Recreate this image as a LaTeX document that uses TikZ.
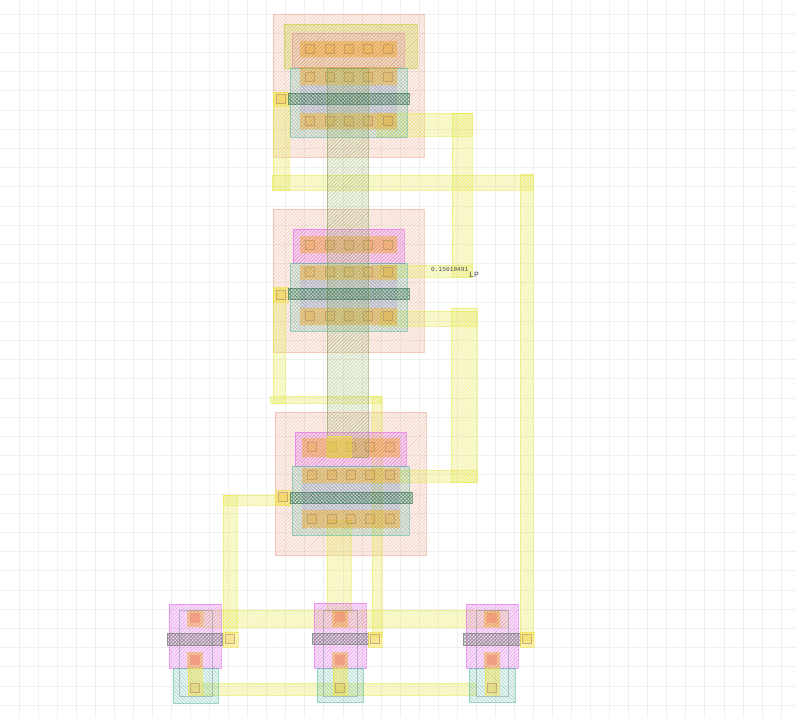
\documentclass[tikz,border=0pt]{standalone}
\usepackage{fontspec}
\setmainfont{Liberation Mono}
\usetikzlibrary{patterns.meta}
\definecolor{cwell}{HTML}{EFA48C}
\definecolor{cnwell}{HTML}{C4CE30}
\definecolor{cplus}{HTML}{E060E8}
\definecolor{cdiff}{HTML}{50B8A0}
\definecolor{cactive}{HTML}{EFA020}
\definecolor{cmetal}{HTML}{E8EA50}
\definecolor{cmet}{HTML}{F4E040}
\definecolor{cgate}{HTML}{3F7A58}
\definecolor{cpoly}{HTML}{98B060}
\definecolor{ccont}{HTML}{B89060}
\definecolor{clav}{HTML}{A898D8}
\definecolor{cinner}{HTML}{8090A0}
\tikzset{
  x=1pt,y=-1pt,
  lyr/.style n args={4}{
    preaction={fill=#1,fill opacity=#3},
    pattern={Lines[angle=#2,distance=2.5pt,line width=.55pt]},pattern color=#1,
    fill opacity=#4,draw=#1,draw opacity=.5,line width=.7pt},
  well/.style={lyr={cwell}{45}{.14}{.55}},
  nplus/.style={lyr={cnwell}{45}{.2}{.65}},
  nmix/.style={lyr={cwell!60!cplus}{45}{.14}{.5}},
  pplus/.style={lyr={cplus}{45}{.18}{.6}},
  diff/.style={lyr={cdiff}{-45}{.1}{.5}},
  active/.style={lyr={cactive}{45}{.34}{.7},draw=none},
  lav/.style={lyr={clav}{-45}{.14}{.4},draw=none},
  metal/.style={lyr={cmetal}{45}{.2}{.65}},
  metalo/.style={lyr={cmet}{45}{.35}{.85}},
  column/.style={lyr={cpoly}{45}{.12}{.4},draw=cpoly!85!black,draw opacity=.5},
  gate/.style={lyr={cgate}{45}{.16}{.5},
    postaction={pattern={Lines[angle=-45,distance=2.5pt,line width=.55pt]},pattern color=cgate,fill opacity=.5},
    draw opacity=.6},
  gategrey/.style={lyr={gray}{45}{.14}{.65},
    postaction={pattern={Lines[angle=-45,distance=2.5pt,line width=.55pt]},pattern color=gray,fill opacity=.65},
    draw opacity=.7},
  cont/.style={draw=ccont,draw opacity=.65,line width=.8pt,fill=cactive,fill opacity=.15},
  contp/.style={fill=cwell!80!red,fill opacity=.5},
  inner/.style={draw=cinner,draw opacity=.5,line width=.7pt},
  gridln/.style={draw=black!6,line width=.8pt},
}
\newcommand{\lay}[5]{\path[#1] (#2,#3) rectangle (#4,#5);}
\newcommand{\ctrow}[2]{\foreach \d in {0,19.4,38.8,58.2,77.6}{\path[cont] (#1+\d-4.5,#2-4.5) rectangle (#1+\d+4.5,#2+4.5);}}
\newcommand{\ct}[2]{\path[cont] (#1-4.5,#2-4.5) rectangle (#1+4.5,#2+4.5);}
\newcommand{\ctp}[2]{\path[contp] (#1-5,#2-5) rectangle (#1+5,#2+5);}
\begin{document}
\begin{tikzpicture}
\useasboundingbox (0,0) rectangle (796,718);
\fill[white] (0,0) rectangle (796,718);
% grid
\foreach \k in {1,...,41}{\draw[gridln] ({19.05*\k},0) -- ({19.05*\k},718);}
\foreach \k in {0,...,36}{\draw[gridln] (0,{14+19.2*\k}) -- (796,{14+19.2*\k});}

% wells
\lay{well}{273}{14}{424}{157}
\lay{well}{273}{209}{424}{352}
\lay{well}{275}{412}{426}{555}

% long metal tracks
\lay{metal}{272}{175}{533}{190}
\lay{metal}{520}{174}{533}{640}
\lay{metal}{273}{92}{289}{190}
\lay{metal}{273}{288}{285}{403}
\lay{metal}{270}{396}{381}{403}
\lay{metal}{372}{396}{382}{636}
\lay{metal}{223}{495}{290}{505}
\lay{metal}{223}{495}{237}{632}
\lay{metal}{327}{520}{351}{612}
\lay{metal}{203}{610}{508}{627}
\lay{metal}{202}{683}{476}{695}
\lay{metal}{452}{113}{472}{277}
\lay{metal}{377}{113}{472}{136}
\lay{metal}{380}{265}{472}{277}
\lay{metal}{451}{308}{477}{482}
\lay{metal}{380}{311}{477}{326}
\lay{metal}{400}{470}{477}{482}

% top block
\lay{nplus}{284}{24}{417}{68}
\lay{nmix}{292}{33}{404}{67}
\lay{active}{300}{41}{397}{57}
\lay{diff}{290}{68}{407}{137}
\lay{active}{300}{67}{397}{85}
\lay{lav}{300}{85}{397}{113}
\lay{active}{300}{113}{397}{129}
\ctrow{310}{49}
\ctrow{310}{77}
\ctrow{310}{121}

% middle block
\lay{pplus}{293}{229}{404}{263}
\lay{active}{300}{236}{397}{253}
\lay{diff}{290}{263}{407}{331}
\lay{active}{300}{265}{397}{280}
\lay{lav}{300}{280}{397}{308}
\lay{active}{300}{308}{397}{325}
\ctrow{310}{245}
\ctrow{310}{272}
\ctrow{310}{316}

% lower block
\lay{pplus}{295}{432}{406}{466}
\lay{active}{302}{438}{400}{457}
\lay{diff}{292}{466}{409}{535}
\lay{active}{302}{468}{400}{483}
\lay{lav}{302}{483}{400}{510}
\lay{active}{302}{510}{400}{528}
\ctrow{312}{447}
\ctrow{312}{475}
\ctrow{312}{519}

% central column, over the blocks
\lay{column}{327}{68}{368}{457}
\lay{metalo}{327}{436}{351}{457}

% gates and their contacts
\lay{metalo}{273}{92}{288}{106}
\ct{281}{99}
\lay{gate}{288}{93}{409}{104}
\lay{metalo}{273}{287}{288}{302}
\ct{281}{295}
\lay{gate}{288}{288}{409}{299}
\lay{metalo}{275}{490}{290}{505}
\ct{283}{497}
\lay{gate}{290}{492}{412}{503}

% bottom cell 1
\lay{pplus}{169}{604}{221}{668}
\lay{diff}{173}{668}{218}{703}
\lay{active}{187}{610}{203}{627}
\lay{active}{187}{652}{203}{668}
\lay{metalo}{188}{668}{202}{695}
\path[inner] (179,610) rectangle (212,696);
\ctp{195}{618}
\ctp{195}{660}
\ct{195}{688}
\lay{gategrey}{167}{633}{222}{645}
\lay{metalo}{223}{632}{238}{647}
\ct{230}{639}

% bottom cell 2
\lay{pplus}{314}{603}{366}{668}
\lay{diff}{317}{668}{363}{702}
\lay{active}{332}{610}{348}{627}
\lay{active}{332}{652}{348}{668}
\lay{metalo}{333}{668}{347}{695}
\path[inner] (323,610) rectangle (357,696);
\ctp{340}{617}
\ctp{340}{660}
\ct{340}{688}
\lay{gategrey}{312}{633}{368}{644}
\lay{metalo}{368}{632}{382}{647}
\ct{375}{639}

% bottom cell 3
\lay{pplus}{466}{604}{518}{668}
\lay{diff}{469}{668}{515}{702}
\lay{active}{484}{610}{500}{627}
\lay{active}{484}{652}{500}{668}
\lay{metalo}{485}{668}{499}{695}
\path[inner] (476,610) rectangle (508,696);
\ctp{492}{618}
\ctp{492}{660}
\ct{492}{688}
\lay{gategrey}{463}{633}{520}{645}
\lay{metalo}{520}{632}{534}{647}
\ct{527}{639}

% labels
\node[inner sep=0pt,anchor=west,font=\fontsize{6.2}{7}\selectfont,text=black!70] (val) at (431,269) {0.15010491};
\node[inner sep=0pt,anchor=west,font=\fontsize{8}{9}\selectfont,text=black!70] (lp) at (469,275) {LP};
\end{tikzpicture}
\end{document}
